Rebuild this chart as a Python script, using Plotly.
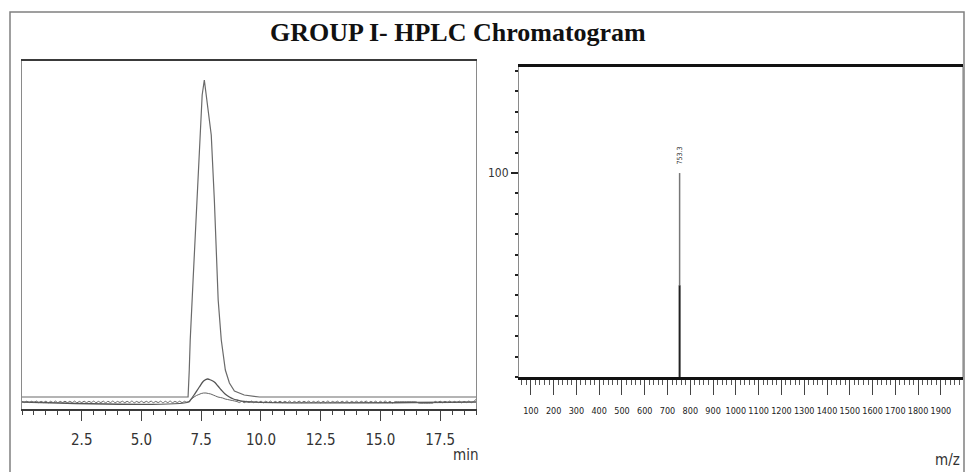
import plotly.graph_objects as go

# ---------------- data ----------------
# Left panel: HPLC chromatogram (time in min, detector response arbitrary units)
main_t = [0.0, 6.95, 7.0, 7.04, 7.16, 7.29, 7.42, 7.54, 7.63, 7.71, 7.84, 7.92,
          8.05, 8.21, 8.34, 8.51, 8.68, 8.89, 9.3, 9.94, 19.0]
main_v = [12, 12, 39, 69, 129, 189, 259, 314, 329, 314, 289, 274,
          209, 109, 69, 39, 26, 18, 14, 12, 12]

mid_t = [0.0, 6.98, 7.05, 7.2, 7.42, 7.6, 7.76, 7.9, 8.05, 8.2, 8.34, 8.5,
         8.68, 8.85, 9.0, 9.3, 19.0]
mid_v = [7, 7, 9, 14, 22, 28, 30, 29, 27, 23, 19, 15, 12, 10, 9, 7.5, 7]

base_t = [0.0, 0.1, 0.2, 0.3, 0.4, 0.5, 0.6, 0.7, 0.8, 0.9,
          1.0, 1.1, 1.2, 1.3, 1.4, 1.5, 1.6, 1.7, 1.8, 1.9,
          2.0, 2.1, 2.2, 2.3, 2.4, 2.5, 2.6, 2.7, 2.8, 2.9,
          3.0, 3.1, 3.2, 3.3, 3.4, 3.5, 3.6, 3.7, 3.8, 3.9,
          4.0, 4.1, 4.2, 4.3, 4.4, 4.5, 4.6, 4.7, 4.8, 4.9,
          5.0, 5.1, 5.2, 5.3, 5.4, 5.5, 5.6, 5.7, 5.8, 5.9,
          6.0, 6.1, 6.2, 6.3, 6.4, 6.5, 6.6, 6.7, 6.8, 6.9,
          7.0, 7.1, 7.2, 7.3, 7.4, 7.5, 7.6, 7.7, 7.8, 7.9,
          8.0, 8.1, 8.2, 8.3, 8.4, 8.5, 8.6, 8.7, 8.8, 8.9,
          9.0, 9.1, 9.2, 9.3, 9.4, 9.5, 9.6, 9.7, 9.8, 9.9,
          10.0, 10.1, 10.2, 10.3, 10.4, 10.5, 10.6, 10.7, 10.8, 10.9,
          11.0, 11.1, 11.2, 11.3, 11.4, 11.5, 11.6, 11.7, 11.8, 11.9,
          12.0, 12.1, 12.2, 12.3, 12.4, 12.5, 12.6, 12.7, 12.8, 12.9,
          13.0, 13.1, 13.2, 13.3, 13.4, 13.5, 13.6, 13.7, 13.8, 13.9,
          14.0, 14.1, 14.2, 14.3, 14.4, 14.5, 14.6, 14.7, 14.8, 14.9,
          15.0, 15.1, 15.2, 15.3, 15.4, 15.5, 15.6, 15.7, 15.8, 15.9,
          16.0, 16.1, 16.2, 16.3, 16.4, 16.5, 16.6, 16.7, 16.8, 16.9,
          17.0, 17.1, 17.2, 17.3, 17.4, 17.5, 17.6, 17.7, 17.8, 17.9,
          18.0, 18.1, 18.2, 18.3, 18.4, 18.5, 18.6, 18.7, 18.8, 18.9,
          19.0]
base_v = [7.6, 6.4, 7.8, 6.3, 7.7, 6.5, 7.9, 6.3, 7.6, 6.4,
          7.8, 6.2, 7.7, 6.4, 7.9, 6.3, 7.6, 6.5, 7.8, 6.3,
          7.7, 6.4, 7.9, 6.2, 7.6, 6.4, 7.8, 6.3, 7.7, 6.5,
          7.9, 6.3, 7.6, 6.4, 7.8, 6.2, 7.7, 6.4, 7.9, 6.3,
          7.6, 6.5, 7.8, 6.3, 7.7, 6.4, 7.9, 6.2, 7.6, 6.4,
          7.8, 6.3, 7.7, 6.5, 7.9, 6.3, 7.6, 6.4, 7.8, 6.2,
          7.7, 6.4, 7.9, 6.3, 7.6, 6.5, 7.8, 6.3, 7.7, 6.8,
          8.0, 10.0, 12.0, 13.5, 14.5, 15.5, 16.0, 16.0, 15.5, 15.0,
          14.0, 13.0, 12.0, 11.5, 11.0, 10.0, 9.5, 9.0, 8.5, 8.0,
          7.5, 6.4, 7.8, 6.3, 7.7, 6.5, 7.9, 6.3, 7.6, 6.4,
          7.8, 6.2, 7.7, 6.4, 7.9, 6.3, 7.6, 6.5, 7.8, 6.3,
          7.7, 6.4, 7.9, 6.2, 7.6, 6.4, 7.8, 6.3, 7.7, 6.5,
          7.9, 6.3, 7.6, 6.4, 7.8, 6.2, 7.7, 6.4, 7.9, 6.3,
          7.6, 6.5, 7.8, 6.3, 7.7, 6.4, 7.9, 6.2, 7.6, 6.4,
          7.8, 6.3, 7.7, 6.5, 7.9, 6.3, 7.6, 6.4, 7.8, 6.2,
          7.7, 6.4, 7.9, 6.3, 7.6, 6.0, 7.2, 7.2, 7.2, 7.2,
          7.2, 7.2, 7.2, 7.2, 7.2, 7.0, 6.0, 5.8, 5.8, 5.8,
          5.8, 5.8, 6.0, 7.6, 6.4, 7.8, 6.3, 7.7, 6.5, 7.9,
          6.3, 7.6, 6.4, 7.8, 6.2, 7.7, 6.4, 7.9, 6.3, 7.6,
          9.5]

left_tickvals = [2.5, 5.0, 7.5, 10.0, 12.5, 15.0, 17.5]
left_ticktext = ["2.5", "5.0", "7.5", "10.0", "12.5", "15.0", "17.5"]

# Right panel: mass spectrum (m/z, relative intensity)
ms_mz = [753]
ms_int = [100]
ms_int_dark = [45]
right_tickvals = [100, 200, 300, 400, 500, 600, 700, 800, 900, 1000,
                  1100, 1200, 1300, 1400, 1500, 1600, 1700, 1800, 1900]
right_ticktext = [str(v) for v in right_tickvals]

# ---------------- figure ----------------
W, H = 965, 472
narrow = "Liberation Sans Narrow, DejaVu Sans Condensed, Arial Narrow, sans-serif"

fig = go.Figure()

fig.add_trace(go.Scatter(x=main_t, y=main_v, mode="lines", xaxis="x", yaxis="y",
                         line=dict(color="#6a6a6a", width=1.2), showlegend=False,
                         hoverinfo="skip"))
fig.add_trace(go.Scatter(x=mid_t, y=mid_v, mode="lines", xaxis="x", yaxis="y",
                         line=dict(color="#555", width=1.3, shape="spline"),
                         showlegend=False, hoverinfo="skip"))
fig.add_trace(go.Scatter(x=base_t, y=base_v, mode="lines", xaxis="x", yaxis="y",
                         line=dict(color="#666", width=1.0, shape="spline"),
                         showlegend=False, hoverinfo="skip"))

# mass spectrum stick (lower darker part, upper lighter part)
for mz, top, dark in zip(ms_mz, ms_int, ms_int_dark):
    fig.add_trace(go.Scatter(x=[mz, mz], y=[0, dark], mode="lines", xaxis="x2", yaxis="y2",
                             line=dict(color="#222", width=2), showlegend=False,
                             hoverinfo="skip"))
    fig.add_trace(go.Scatter(x=[mz, mz], y=[dark, top], mode="lines", xaxis="x2", yaxis="y2",
                             line=dict(color="#777", width=1.5), showlegend=False,
                             hoverinfo="skip"))
    fig.add_annotation(x=mz, y=top + 3, xref="x2", yref="y2", text=f"{mz}.3",
                       textangle=-90, showarrow=False, yanchor="bottom",
                       font=dict(family=narrow, size=7, color="#333"))

fig.update_layout(
    width=W, height=H,
    margin=dict(l=0, r=0, t=0, b=0),
    paper_bgcolor="white", plot_bgcolor="white",
    xaxis=dict(domain=[22 / W, 476 / W], range=[0, 19.0], anchor="y",
               showgrid=False, zeroline=False,
               showline=True, linecolor="#3a3a3a", linewidth=1.6, mirror=True,
               ticks="outside", ticklen=10, tickwidth=1, tickcolor="#444",
               tickvals=left_tickvals, ticktext=left_ticktext,
               ticklabelstandoff=6,
               minor=dict(ticks="outside", dtick=0.5, tick0=0, ticklen=4,
                          tickwidth=1, tickcolor="#444"),
               tickfont=dict(family=narrow, size=15, color="#333")),
    yaxis=dict(domain=[1 - 409 / H, 1 - 61 / H], range=[0, 348], anchor="x",
               showgrid=False, zeroline=False,
               showline=True, linecolor="#8a8a8a", linewidth=1.2, mirror=True,
               ticks="", showticklabels=False),
    xaxis2=dict(domain=[519 / W, 963 / W], range=[48, 1997], anchor="y2",
                showgrid=False, zeroline=False,
                showline=True, linecolor="#111", linewidth=2.5, mirror=True,
                ticks="outside", ticklen=15, tickwidth=1, tickcolor="#444",
                tickvals=right_tickvals, ticktext=right_ticktext,
                tickangle=0, ticklabelstandoff=8,
                minor=dict(ticks="outside", dtick=20, tick0=0, ticklen=5,
                           tickwidth=1, tickcolor="#555"),
                tickfont=dict(family=narrow, size=9, color="#222")),
    yaxis2=dict(domain=[1 - 377 / H, 1 - 67 / H], range=[0, 152], anchor="x2",
                showgrid=False, zeroline=False,
                showline=True, linecolor="#8a8a8a", linewidth=1.2,
                ticks="outside", ticklen=7, tickwidth=2, tickcolor="#222",
                tickvals=[100], ticktext=["100"],
                minor=dict(ticks="outside", dtick=10, tick0=0, ticklen=3,
                           tickwidth=2, tickcolor="#222"),
                tickfont=dict(family=narrow, size=12, color="#333")),
)

# right border of the mass spectrum frame
fig.add_shape(type="line", xref="paper", yref="paper",
              x0=963 / W, x1=963 / W, y0=1 - 377 / H, y1=1 - 67 / H,
              line=dict(color="#8a8a8a", width=1.2))

# outer frame
fig.add_shape(type="rect", xref="paper", yref="paper",
              x0=10 / W, x1=964 / W, y0=-0.05, y1=1 - 12 / H,
              line=dict(color="#808080", width=1.5), layer="below")

# title
fig.add_annotation(x=458 / W, y=1 - 32 / H, xref="paper", yref="paper",
                   text="<b>GROUP I- HPLC Chromatogram</b>", showarrow=False,
                   xanchor="center", yanchor="middle",
                   font=dict(family="Liberation Serif, Times New Roman, serif",
                             size=26, color="#111"))

# axis unit labels
fig.add_annotation(x=465 / W, y=1 - 455 / H, xref="paper", yref="paper",
                   text="min", showarrow=False, xanchor="center", yanchor="middle",
                   font=dict(family=narrow, size=15, color="#333"))
fig.add_annotation(x=962 / W, y=1 - 460 / H, xref="paper", yref="paper",
                   text="m/z", showarrow=False, xanchor="right", yanchor="middle",
                   font=dict(family=narrow, size=15, color="#333"))

fig.write_html("out.html")
